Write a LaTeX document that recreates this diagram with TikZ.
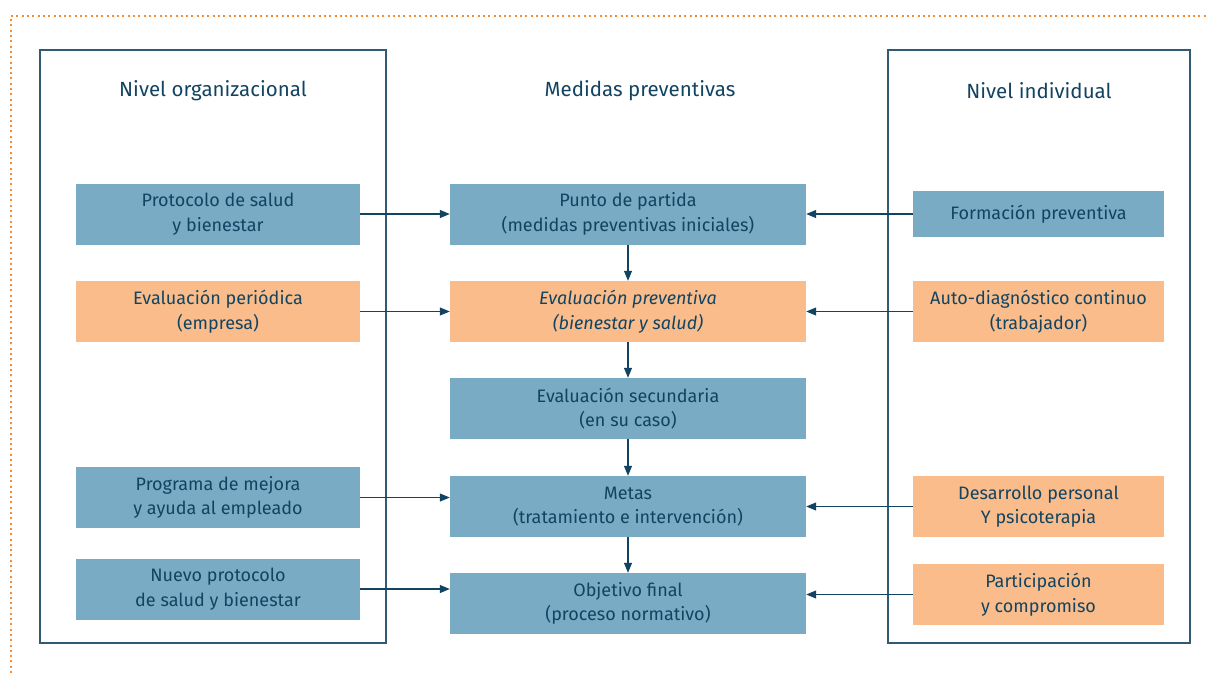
\documentclass[tikz,border=0pt]{standalone}
\usepackage{fontspec}
\setmainfont{Fira Sans}
\usetikzlibrary{arrows.meta}

\definecolor{boxblue}{RGB}{122,171,196}
\definecolor{boxorange}{RGB}{249,188,138}
\definecolor{inkteal}{RGB}{18,68,98}
\definecolor{framegray}{RGB}{50,90,115}
\definecolor{dotorange}{RGB}{245,140,50}

\begin{document}
\begin{tikzpicture}[x=1pt,y=-1pt,line join=miter,>={Triangle[length=10pt,width=8pt]},
  every node/.style={text=inkteal,align=center,inner sep=0pt,font=\fontsize{18}{24.5}\selectfont},
  title/.style={font=\fontsize{20.5}{24}\selectfont},
  blue/.style={fill=boxblue,minimum height=61pt,minimum width=#1},
  orange/.style={fill=boxorange,minimum height=61pt,minimum width=#1},
  link/.style={draw=inkteal,line width=1.1pt,->}]
  \def\xl{218}
  \def\xc{628}
  \def\xr{1038.5}
  \useasboundingbox (0,0) rectangle (1209,673);
  % outer dotted frame
  \draw[dotorange,line width=2pt,dash pattern=on 2pt off 3.3pt] (11,673) -- (11,16) -- (1209,16);
  % panels
  \draw[framegray,line width=1.2pt] (40,50) rectangle (386,643);
  \draw[framegray,line width=1.2pt] (888,50) rectangle (1190,643);
  \node[title] (tl) at (\xl-5,91) {Nivel organizacional};
  \node[title] (tc) at (640,91) {Medidas preventivas};
  \node[title] (tr) at (1039,91) {Nivel individual};
  % organizational level
  \node[blue=284pt] (pl1) at (\xl,214) {Protocolo de salud\\y bienestar};
  \node[orange=284pt] (pl2) at (\xl,311.5) {Evaluación periódica\\(empresa)};
  \node[blue=284pt] (pl3) at (\xl,497.5) {Programa de mejora\\y ayuda al empleado};
  \node[blue=284pt] (pl4) at (\xl,589) {Nuevo protocolo\\de salud y bienestar};
  % preventive measures
  \node[blue=356pt] (pc1) at (\xc,214) {Punto de partida\\(medidas preventivas iniciales)};
  \node[orange=356pt] (pc2) at (\xc,311.5) {\itshape Evaluación preventiva\\\itshape (bienestar y salud)};
  \node[blue=356pt] (pc3) at (\xc,408.5) {Evaluación secundaria\\(en su caso)};
  \node[blue=356pt] (pc4) at (\xc,506.5) {Metas\\(tratamiento e intervención)};
  \node[blue=356pt] (pc5) at (\xc,603.5) {Objetivo final\\(proceso normativo)};
  % individual level
  \node[blue=251pt,minimum height=46pt] (pr1) at (\xr,214) {Formación preventiva};
  \node[orange=251pt] (pr2) at (\xr,311.5) {Auto-diagnóstico continuo\\(trabajador)};
  \node[orange=251pt] (pr3) at (\xr,506.5) {Desarrollo personal\\Y psicoterapia};
  \node[orange=251pt] (pr4) at (\xr,594.5) {Participación\\y compromiso};
  % arrows
  \foreach \a/\b in {pc1/pc2,pc2/pc3,pc3/pc4,pc4/pc5}
    \draw[link] (\a.south) -- (\b.north);
  \foreach \a/\b in {pl1/pc1,pl2/pc2,pl3/pc4,pl4/pc5}
    \draw[link] (\a.east) -- (\a.east -| \b.west);
  \foreach \a/\b in {pr1/pc1,pr2/pc2,pr3/pc4,pr4/pc5}
    \draw[link] (\a.west) -- (\a.west -| \b.east);
\end{tikzpicture}
\end{document}
